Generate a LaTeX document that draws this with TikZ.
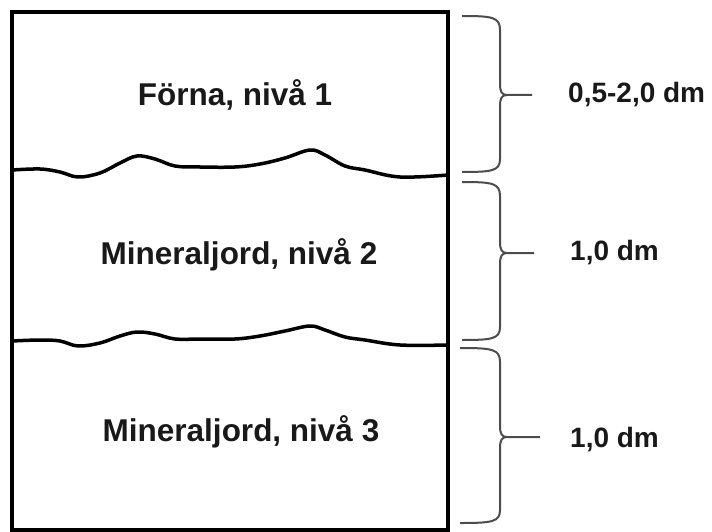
\documentclass[tikz,border=0pt]{standalone}
\usepackage{fontspec}
\setmainfont{Liberation Sans}
\begin{document}
\begin{tikzpicture}[x=1pt,y=-1pt,
  layer/.style={font=\bfseries\fontsize{31.5}{36}\selectfont, text=black!90, inner sep=0pt},
  dim/.style={font=\bfseries\fontsize{28}{32}\selectfont, text=black!90, anchor=west, inner sep=0pt},
  wave/.style={line width=3.5pt, black, line join=round, line cap=round},
  brace/.style={line width=2pt, black!70}]
\useasboundingbox (0,0) rectangle (712,532);
\fill[white] (0,0) rectangle (712,532);
% box
\draw[line width=4pt] (12,12) rectangle (448,530);
% wavy boundaries
\draw[wave] plot[smooth, tension=0.6] coordinates {(12,170) (40,169) (60,172) (78,177) (100,173) (120,163) (137,156) (155,159) (175,166) (200,167) (235,167) (260,164) (285,158) (310,150) (325,155) (345,166) (365,170) (400,177) (448,175)};
\draw[wave] plot[smooth, tension=0.6] coordinates {(12,341) (40,340) (60,341) (78,346) (100,343) (120,336) (137,332) (155,334) (175,339) (200,339) (235,339) (260,336) (285,331) (310,326) (325,330) (345,337) (365,340) (400,345) (448,345)};
% layer labels
\node[layer] (l1) at (235,95) {Förna, nivå 1};
\node[layer] (l2) at (239,255) {Mineraljord, nivå 2};
\node[layer] (l3) at (241,432) {Mineraljord, nivå 3};
% braces
\draw[brace] (462,16) .. controls (492,16) and (500,17) .. (500,30) -- (500,84) .. controls (500,92) and (502,95) .. (507,95) -- (532,95);
\draw[brace] (507,95) .. controls (502,95) and (500,98) .. (500,106) -- (500,159) .. controls (500,171) and (492,172) .. (462,172);
\draw[brace] (462,182) .. controls (492,182) and (500,183) .. (500,196) -- (500,242) .. controls (500,250) and (502,253) .. (507,253) -- (534,253);
\draw[brace] (507,253) .. controls (502,253) and (500,256) .. (500,264) -- (500,327) .. controls (500,339) and (492,340) .. (462,340);
\draw[brace] (460,348) .. controls (492,348) and (500,349) .. (500,362) -- (500,426) .. controls (500,434) and (502,437) .. (507,437) -- (540,437);
\draw[brace] (507,437) .. controls (502,437) and (500,440) .. (500,448) -- (500,510) .. controls (500,522) and (492,523) .. (460,523);
% dimension labels
\node[dim] (d1) at (568,95) {0,5-2,0 dm};
\node[dim] (d2) at (570,253) {1,0 dm};
\node[dim] (d3) at (570,440) {1,0 dm};
\end{tikzpicture}
\end{document}
